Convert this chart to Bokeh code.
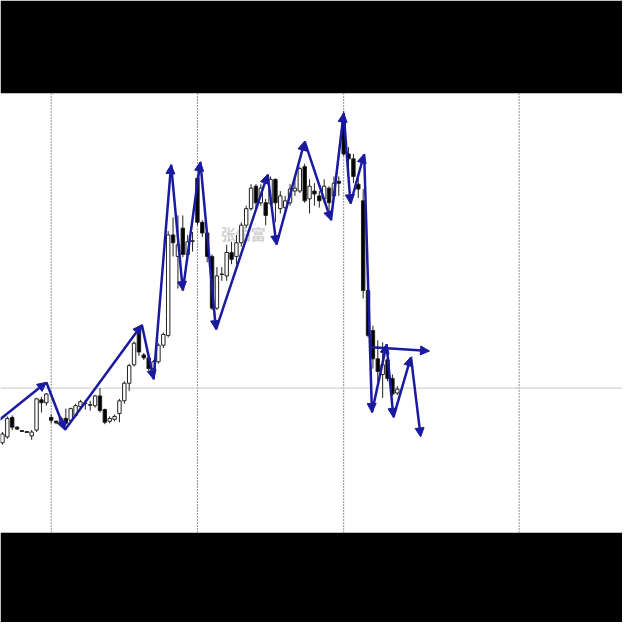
from bokeh.plotting import figure
from bokeh.models import ColumnDataSource, Range1d, Span, Arrow, NormalHead
from bokeh.core.properties import value
from bokeh.embed import file_html
from bokeh.resources import INLINE

# ---- candle data (bar index order) ----
opens = [92, 98, 118, 108, 104.5, 103.5, 99, 105, 136, 133,
         118, 114, 113, 117, 115, 120, 129, 132.5, 131, 130,
         140, 126, 114, 116, 122, 135, 153, 172, 207, 182,
         179, 168, 175, 192, 202, 305, 283, 312, 285, 299,
         363, 318, 307, 283, 230, 265, 263, 287, 283, 297,
         315, 332, 355, 338, 338, 337, 362, 332, 333, 338,
         350, 350, 375, 342, 350, 345, 342, 353, 345, 360,
         425, 388, 383, 357, 340, 248, 207, 178, 162, 177,
         158, 143]
highs = [103, 119, 120, 109, 105, 104, 105, 138, 139, 143,
         121, 115, 119, 127, 128, 132, 136, 136, 135, 141,
         148, 127, 119, 121, 137, 155, 173, 196, 211, 184,
         184, 177, 194, 205, 309, 323, 325, 325, 305, 308,
         366, 320, 310, 285, 272, 272, 295, 298, 305, 318,
         335, 357, 357, 357, 342, 365, 363, 350, 345, 357,
         365, 375, 378, 362, 358, 350, 362, 355, 365, 365,
         432, 395, 388, 365, 352, 255, 212, 197, 195, 182,
         162, 150]
lows = [90, 96, 105, 105, 103, 102, 95, 103, 123, 130,
        112, 111, 111, 110, 113, 118, 127, 126, 125, 128,
        123, 111, 112, 114, 113, 132, 145, 170, 181, 177,
        166, 165, 173, 189, 200, 283, 250, 282, 282, 288,
        315, 303, 277, 228, 228, 258, 258, 275, 275, 293,
        312, 330, 330, 335, 315, 335, 318, 327, 330, 335,
        345, 348, 338, 327, 335, 333, 338, 327, 342, 345,
        386, 370, 358, 343, 240, 200, 168, 155, 138, 155,
        140, 141]
closes = [101, 117, 108, 106, 103.5, 102.5, 103, 137, 133, 142,
          115, 112.5, 117, 112, 127, 130, 134, 132, 130.5, 140,
          125, 113, 117, 119, 135, 153, 171, 194, 185, 179,
          168, 175, 192, 203, 305, 297, 295, 285, 298, 298.5,
          318, 307, 283, 230, 263, 264.5, 287, 280, 297, 315,
          332, 353, 338, 353, 325, 362, 338, 345, 340, 352,
          353, 373, 340, 355, 347, 340, 355, 338, 358, 358,
          388, 383, 365, 352, 248, 202, 178, 165, 172, 158,
          142, 147]

# ---- zigzag swing points (bar index, price) ----
zz_x = [-1, 9, 12.8, 28.6, 31, 34.6, 37, 40.6, 43.8, 54.4, 56.2,
        62, 67.4, 70, 71.4, 74.2, 75.8, 78.8, 80.2, 83.8, 85.8]
zz_y = [114, 154, 105, 213, 157, 377, 248, 380, 208, 367, 295,
        401, 320, 430, 337, 388, 123, 193, 118, 180, 98]

# projection arrow
proj_x = [75.8, 87.6]
proj_y = [190, 186]

session_breaks = [10, 40, 70, 106]
ref_level = 148
watermark = "张佑富"

BLUE = "#1a1aa0"

p = figure(width=622, height=622, output_backend="svg", toolbar_location=None,
           x_range=Range1d(-0.4, 127.2), y_range=Range1d(0, 450),
           x_axis_location=None, y_axis_location=None,
           min_border_top=93, min_border_bottom=90,
           min_border_left=0, min_border_right=0)
p.border_fill_color = "black"
p.background_fill_color = "white"
p.outline_line_color = None
p.xgrid.grid_line_color = None
p.ygrid.grid_line_color = None

for b in session_breaks:
    p.add_layout(Span(location=b, dimension="height", line_color="#222222",
                      line_width=1, line_dash="1 2", level="underlay"))
p.add_layout(Span(location=ref_level, dimension="width", line_color="#c8c8c8",
                  line_width=1, level="underlay"))

p.text(x=[49.4], y=[306], text=[watermark], text_font=value("Noto Sans CJK SC"),
       text_font_size="15px", text_font_style="bold", text_color="#d2d2d2",
       text_align="center", text_baseline="middle")

idx = list(range(len(opens)))
up = [c >= o for o, c in zip(opens, closes)]
src = ColumnDataSource(dict(
    x=idx, o=opens, h=highs, l=lows, c=closes,
    top=[max(o, c) for o, c in zip(opens, closes)],
    bot=[min(o, c) for o, c in zip(opens, closes)],
    fill=["white" if u else "black" for u in up],
))
p.segment(x0="x", y0="h", x1="x", y1="l", source=src, line_color="#222222", line_width=1)
p.vbar(x="x", top="top", bottom="bot", width=0.7, source=src,
       fill_color="fill", line_color="#222222", line_width=1)

arr_src = ColumnDataSource(dict(x0=zz_x[:-1], y0=zz_y[:-1], x1=zz_x[1:], y1=zz_y[1:]))
p.add_layout(Arrow(end=NormalHead(size=9, fill_color=BLUE, line_color=BLUE, line_width=1),
                   x_start="x0", y_start="y0", x_end="x1", y_end="y1",
                   source=arr_src, line_color=BLUE, line_width=2.5))
proj_src = ColumnDataSource(dict(x0=[proj_x[0]], y0=[proj_y[0]], x1=[proj_x[1]], y1=[proj_y[1]]))
p.add_layout(Arrow(end=NormalHead(size=9, fill_color=BLUE, line_color=BLUE, line_width=1),
                   x_start="x0", y_start="y0", x_end="x1", y_end="y1",
                   source=proj_src, line_color=BLUE, line_width=2.5))

open("out.html", "w").write(file_html(p, INLINE))
